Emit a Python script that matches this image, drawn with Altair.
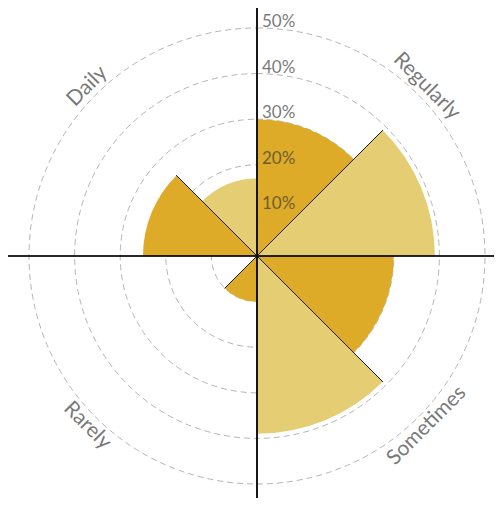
import math
import altair as alt
import pandas as pd

# Categories clockwise from north
categories = ["Regularly", "Sometimes", "Rarely", "Daily"]
series = ["First", "Second"]
first_values = [30, 30, 10, 25]    # dark gold (%)
second_values = [39, 39, 0, 17]    # light gold (%)
grid_values = [10, 20, 30, 40, 50]
grid_labels = ["10%", "20%", "30%", "40%", "50%"]

DARK = "#DDAB28"
LIGHT = "#E5CD74"
TEXT = "#333333"
FONT = "Lato"

W, H = 486, 490
CX, CY = 249, 248

rows = []
for i, c in enumerate(categories):
    rows.append({"cat": c, "series": series[0], "value": first_values[i], "t0": 2 * i, "t1": 2 * i + 1})
    rows.append({"cat": c, "series": series[1], "value": second_values[i], "t0": 2 * i + 1, "t1": 2 * i + 2})
sectors = pd.DataFrame(rows)

divs = pd.DataFrame({
    "cat": categories,
    "t": [2 * i + 1 for i in range(len(categories))],
    "value": [max(a, b) for a, b in zip(first_values, second_values)],
})

labels = pd.DataFrame({
    "cat": categories,
    "t": [2 * i + 1 for i in range(len(categories))],
    "rot": [45 if i % 2 == 0 else 315 for i in range(len(categories))],
})

grid = pd.DataFrame({"value": grid_values, "label": grid_labels})

theta_scale = alt.Scale(domain=[0, 8], range=[0, 2 * math.pi])
r_scale = alt.Scale(type="linear", domain=[0, 50], range=[0, 228], zero=True)

cx = alt.value(CX)
cy = alt.value(CY)

circles = alt.Chart(grid).mark_arc(filled=False, stroke="#B5B5B5", strokeWidth=1, strokeDash=[6, 4]).encode(
    x=cx, y=cy,
    theta=alt.value(0), theta2=alt.value(2 * math.pi),
    radius=alt.Radius("value:Q", scale=r_scale, stack=None),
)

arcs = alt.Chart(sectors).mark_arc(stroke=None).encode(
    x=cx, y=cy,
    theta=alt.Theta("t0:Q", scale=theta_scale, stack=None),
    theta2="t1:Q",
    radius=alt.Radius("value:Q", scale=r_scale, stack=None),
    color=alt.Color("series:N", scale=alt.Scale(domain=series, range=[DARK, LIGHT]), legend=None),
)

dividers = alt.Chart(divs).mark_arc(filled=False, stroke="#1a1a1a", strokeWidth=1).encode(
    x=cx, y=cy,
    theta=alt.Theta("t:Q", scale=theta_scale, stack=None),
    theta2="t:Q",
    radius=alt.Radius("value:Q", scale=r_scale, stack=None),
)

hline = alt.Chart(grid).mark_rule(color="#000000", opacity=0.6, strokeWidth=1.2).encode(
    x=alt.value(0), x2=alt.value(W), y=cy,
)
vline = alt.Chart(grid).mark_rule(color="#111111", strokeWidth=1).encode(
    y=alt.value(0), y2=alt.value(H), x=cx,
)

pct = alt.Chart(grid).mark_text(align="left", baseline="alphabetic", dx=5, dy=-1,
                                 font=FONT, fontSize=17, color=TEXT, opacity=0.65).encode(
    x=cx, y=cy,
    theta=alt.value(0),
    radius=alt.Radius("value:Q", scale=r_scale, stack=None),
    text="label:N",
)

cat_text = alt.Chart(labels).mark_text(align="center", baseline="middle",
                                       font=FONT, fontSize=21, color=TEXT, opacity=0.65).encode(
    x=cx, y=cy,
    theta=alt.Theta("t:Q", scale=theta_scale, stack=None),
    radius=alt.value(240),
    angle=alt.Angle("rot:Q", scale=None),
    text="cat:N",
)

chart = alt.layer(circles, arcs, dividers, hline, vline, pct, cat_text).properties(
    width=W, height=H, padding=0, autosize=alt.AutoSizeParams(type="none"),
).configure_view(stroke=None)

chart.save("out.html", embed_options={"renderer": "svg", "actions": False})
